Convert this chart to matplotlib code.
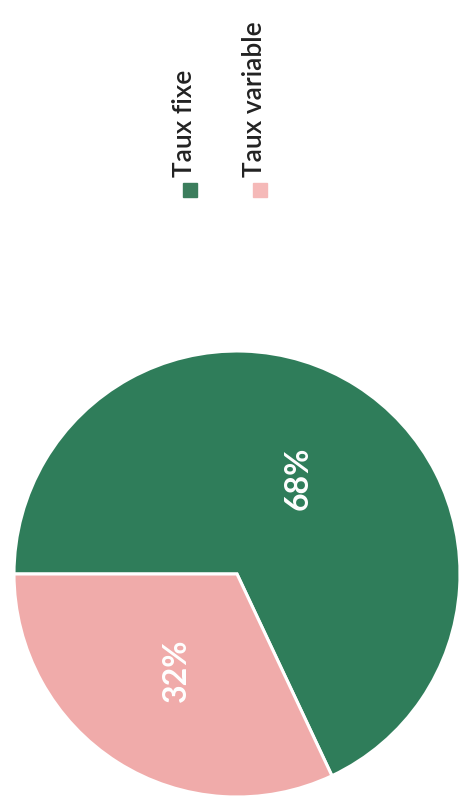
import matplotlib.pyplot as plt
from matplotlib.patches import Rectangle

# part des taux
labels = ["Taux fixe", "Taux variable"]
shares = [68, 32]
colors = ["#2f7d5a", "#f0abaa"]
legend_colors = ["#3b7d5c", "#f5b9b8"]

fig = plt.figure(figsize=(4.62, 7.98), dpi=100)
ax = fig.add_axes([0, 0, 1, 1])

# pie laid out sideways, coordinates in pixels (y up)
wedges, texts, autotexts = ax.pie(
    shares, colors=colors, startangle=180, counterclock=False,
    center=(237, 224), radius=223,
    autopct="%d%%", pctdistance=0.51,
    wedgeprops=dict(edgecolor="white", linewidth=2.2),
    textprops=dict(color="white", fontsize=23, family="Lato", fontweight="bold"),
)
for t in autotexts:
    t.set_rotation(90)
    t.set_ha("center")
    t.set_va("center")

ax.set_xlim(0, 462)
ax.set_ylim(0, 798)
ax.set_aspect("equal")
ax.axis("off")

# legend written vertically
for i, lab in enumerate(labels):
    x = 190 + 70 * i
    ax.add_patch(Rectangle((x - 7, 601), 14, 14, color=legend_colors[i]))
    ax.text(x - 5, 621, lab, rotation=90, ha="center", va="bottom",
            fontsize=19, family="Lato", fontweight="semibold", color="#222222")

fig.savefig("out.png", dpi=100)
